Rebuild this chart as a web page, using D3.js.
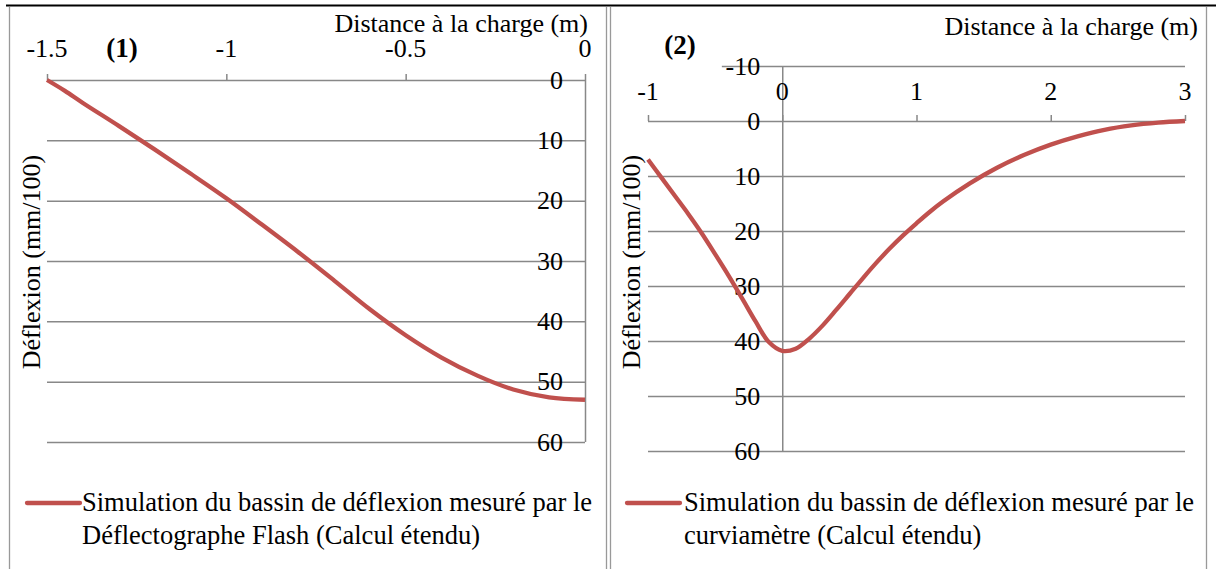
<!DOCTYPE html>
<html><head><meta charset="utf-8">
<script src="https://cdn.jsdelivr.net/npm/d3@7"></script>
<style>
html,body{margin:0;padding:0;background:#fff;}
svg text{font-family:"Liberation Serif","DejaVu Serif",serif;fill:#000;}
</style></head>
<body>
<svg id="c" width="1216" height="569" font-family="Liberation Serif, DejaVu Serif, serif"></svg>
<script>
// ---- Data ----
const chart1X = [-1.5,-1.45,-1.4,-1.3,-1.2,-1.1,-1.0,-0.9,-0.8,-0.7,-0.6,-0.5,-0.4,-0.3,-0.2,-0.1,0];
const chart1Y = [0,1.8,3.8,7.6,11.5,15.5,19.6,24,28.5,33.2,38,42.3,46,49,51.3,52.6,53];
const chart2X = [-1,-0.9,-0.8,-0.7,-0.6,-0.5,-0.4,-0.3,-0.2,-0.1,0,0.1,0.2,0.3,0.4,0.5,0.6,0.7,0.8,0.9,1.0,1.1,1.2,1.4,1.6,1.8,2.0,2.2,2.4,2.6,2.8,3.0];
const chart2Y = [7,10.3,13.6,16.9,20.4,24.2,28.1,32.2,36.4,40.2,41.8,41.4,39.6,37.2,34.4,31.5,28.6,25.8,23.2,20.8,18.6,16.5,14.6,11.3,8.5,6.2,4.3,2.8,1.6,0.8,0.3,0];
const chart1XTicks = [-1.5,-1,-0.5,0];
const chart1YTicks = [0,10,20,30,40,50,60];
const chart2XTicks = [-1,0,1,2,3];
const chart2YTicks = [-10,0,10,20,30,40,50,60];
const xTitle = "Distance à la charge (m)";
const yTitle = "Déflexion (mm/100)";
const panelLabels = ["(1)","(2)"];
const legend1 = ["Simulation du bassin de déflexion mesuré par le","Déflectographe Flash (Calcul étendu)"];
const legend2 = ["Simulation du bassin de déflexion mesuré par le","curviamètre (Calcul étendu)"];

const svg = d3.select("#c");
const gridCol = "#888888", lineCol = "#c0504d";
const fs = 26;
const FONT = "'Liberation Serif', 'DejaVu Serif', serif";

// frame
svg.append("line").attr("x1",6).attr("x2",1216).attr("y1",5.5).attr("y2",5.5).attr("stroke","#000").attr("stroke-width",2);
[9.5,606.5,610.5,1206.5].forEach(x=>svg.append("line").attr("x1",x).attr("x2",x).attr("y1",7).attr("y2",569).attr("stroke","#999").attr("stroke-width",1.3));

const fmt = v => String(v);
function T(sel){ return sel.attr("font-family",FONT).attr("fill","#000"); }

// ---- Chart 1 ----
const x1 = d3.scaleLinear().domain([-1.5,0]).range([47,585]);
const y1 = d3.scaleLinear().domain([0,60]).range([80,442]);
const g1 = svg.append("g");
g1.selectAll("line.grid").data(chart1YTicks).join("line")
  .attr("x1",x1(-1.5)).attr("x2",x1(0)).attr("y1",d=>y1(d)+0.5).attr("y2",d=>y1(d)+0.5)
  .attr("stroke",gridCol).attr("stroke-width",1.5);
g1.append("line").attr("x1",x1(0)+0.5).attr("x2",x1(0)+0.5).attr("y1",y1(0)).attr("y2",y1(60)).attr("stroke",gridCol).attr("stroke-width",1.5);
g1.selectAll("line.xt").data(chart1XTicks).join("line")
  .attr("x1",d=>x1(d)+0.5).attr("x2",d=>x1(d)+0.5).attr("y1",y1(0)).attr("y2",y1(0)-6)
  .attr("stroke",gridCol).attr("stroke-width",1.5);
T(g1.selectAll("text.xl").data(chart1XTicks).join("text"))
  .attr("x",d=>x1(d)).attr("y",57).attr("text-anchor","middle").attr("font-size",fs).text(fmt);
T(g1.selectAll("text.yl").data(chart1YTicks).join("text"))
  .attr("x",x1(0)-22).attr("y",d=>y1(d)).attr("dy","0.33em").attr("text-anchor","end").attr("font-size",fs).text(fmt);
T(g1.append("text")).attr("x",588).attr("y",32).attr("text-anchor","end").attr("font-size",fs).text(xTitle);
T(g1.append("text")).attr("x",122).attr("y",57).attr("text-anchor","middle").attr("font-size",fs+1).attr("font-weight","bold").text(panelLabels[0]);
T(g1.append("text")).attr("transform","translate(40,262) rotate(-90)").attr("text-anchor","middle").attr("font-size",fs).text(yTitle);
const line1 = d3.line().x(d=>x1(d[0])).y(d=>y1(d[1])).curve(d3.curveCatmullRom);
g1.append("path").datum(chart1X.map((x,i)=>[x,chart1Y[i]])).attr("d",line1)
  .attr("fill","none").attr("stroke",lineCol).attr("stroke-width",4.3);
// legend 1
g1.append("line").attr("x1",27).attr("x2",80).attr("y1",503).attr("y2",503).attr("stroke",lineCol).attr("stroke-width",4.3).attr("stroke-linecap","round");
T(g1.selectAll("text.lg").data(legend1).join("text"))
  .attr("x",82).attr("y",(d,i)=>511+i*33).attr("font-size",fs+0.5).text(d=>d);

// ---- Chart 2 ----
const x2 = d3.scaleLinear().domain([-1,3]).range([648,1185]);
const y2 = d3.scaleLinear().domain([-10,60]).range([66,451]);
const g2 = svg.append("g");
g2.selectAll("line.grid").data(chart2YTicks).join("line")
  .attr("x1",d=>d===-10?x2(-0.45):x2(-1)).attr("x2",x2(3)).attr("y1",d=>y2(d)+0.5).attr("y2",d=>y2(d)+0.5)
  .attr("stroke",gridCol).attr("stroke-width",1.5);
g2.append("line").attr("x1",x2(0)+0.5).attr("x2",x2(0)+0.5).attr("y1",y2(-10)).attr("y2",y2(60)).attr("stroke",gridCol).attr("stroke-width",1.5);
g2.selectAll("line.xt").data(chart2XTicks).join("line")
  .attr("x1",d=>x2(d)+0.5).attr("x2",d=>x2(d)+0.5).attr("y1",y2(0)).attr("y2",y2(0)-6)
  .attr("stroke",gridCol).attr("stroke-width",1.5);
T(g2.selectAll("text.xl").data(chart2XTicks).join("text"))
  .attr("x",d=>x2(d)).attr("y",100).attr("text-anchor","middle").attr("font-size",fs).text(fmt);
T(g2.selectAll("text.yl").data(chart2YTicks).join("text"))
  .attr("x",x2(0)-22).attr("y",d=>y2(d)).attr("dy","0.33em").attr("text-anchor","end").attr("font-size",fs).text(fmt);
T(g2.append("text")).attr("x",1198).attr("y",35).attr("text-anchor","end").attr("font-size",fs).text(xTitle);
T(g2.append("text")).attr("x",680).attr("y",54).attr("text-anchor","middle").attr("font-size",fs+1).attr("font-weight","bold").text(panelLabels[1]);
T(g2.append("text")).attr("transform","translate(640,262) rotate(-90)").attr("text-anchor","middle").attr("font-size",fs).text(yTitle);
const line2 = d3.line().x(d=>x2(d[0])).y(d=>y2(d[1])).curve(d3.curveCatmullRom);
g2.append("path").datum(chart2X.map((x,i)=>[x,chart2Y[i]])).attr("d",line2)
  .attr("fill","none").attr("stroke",lineCol).attr("stroke-width",4.3);
g2.append("line").attr("x1",627).attr("x2",680).attr("y1",503).attr("y2",503).attr("stroke",lineCol).attr("stroke-width",4.3).attr("stroke-linecap","round");
T(g2.selectAll("text.lg").data(legend2).join("text"))
  .attr("x",684).attr("y",(d,i)=>511+i*33).attr("font-size",fs+0.5).text(d=>d);
</script>
</body></html>
